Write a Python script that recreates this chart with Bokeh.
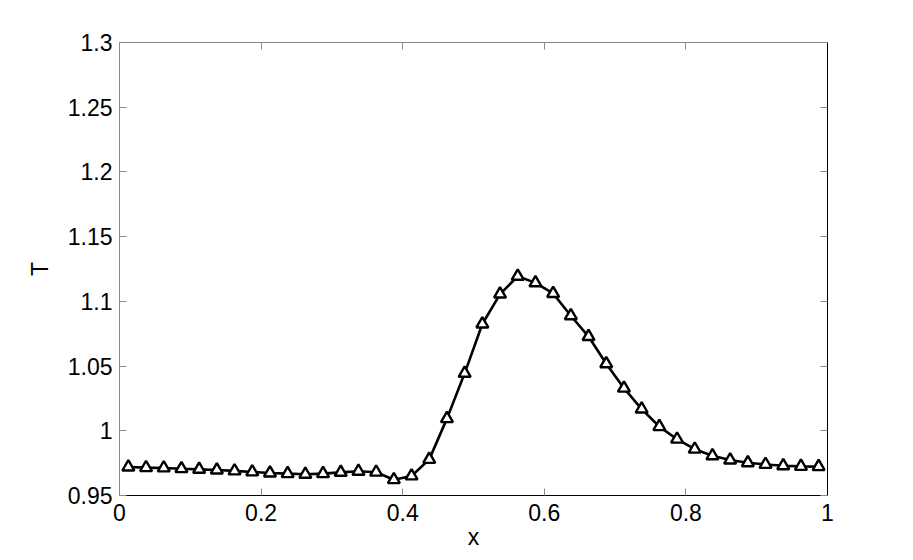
from bokeh.plotting import figure
from bokeh.models import LinearAxis, FixedTicker, Range1d
from bokeh.embed import file_html
from bokeh.resources import INLINE

# data
x = [0.0125 + 0.025 * i for i in range(40)]
T = [0.9720, 0.9715, 0.9713, 0.9707, 0.9702, 0.9697, 0.9690, 0.9682, 0.9674, 0.9669,
     0.9664, 0.9669, 0.9679, 0.9687, 0.9680, 0.9622, 0.9651, 0.9779, 1.0094, 1.0444,
     1.0825, 1.1056, 1.1194, 1.1143, 1.1061, 1.0889, 1.0728, 1.0518, 1.0329, 1.0168,
     1.0032, 0.9935, 0.9858, 0.9807, 0.9774, 0.9753, 0.9740, 0.9730, 0.9725, 0.9723]

x_ticks = [0, 0.2, 0.4, 0.6, 0.8, 1.0]
x_tick_labels = ["0", "0.2", "0.4", "0.6", "0.8", "1"]
y_ticks = [0.95, 1.0, 1.05, 1.1, 1.15, 1.2, 1.25, 1.3]
y_tick_labels = ["0.95", "1", "1.05", "1.1", "1.15", "1.2", "1.25", "1.3"]

FONT = "Liberation Sans"
GRAY = "#8a8a8a"

p = figure(width=905, height=552, output_backend="svg", toolbar_location=None,
           x_range=Range1d(0, 1), y_range=Range1d(0.95, 1.3),
           min_border_left=119, min_border_right=78, min_border_top=42, min_border_bottom=54)
p.outline_line_color = None
p.grid.visible = False
p.background_fill_color = "white"
p.border_fill_color = "white"

def style(ax, ticks, labels, line_color, show_labels):
    ax.ticker = FixedTicker(ticks=ticks)
    if show_labels:
        ax.major_label_overrides = {t: l for t, l in zip(ticks, labels)}
    else:
        ax.major_label_overrides = {t: "" for t in ticks}
    ax.minor_tick_line_color = None
    ax.major_tick_in = 7
    ax.major_tick_out = 0
    ax.major_tick_line_color = GRAY
    ax.axis_line_color = line_color
    ax.major_label_text_font = FONT
    ax.major_label_text_color = "black"
    ax.major_label_text_font_size = "23px"
    ax.axis_label_text_font = FONT
    ax.axis_label_text_font_style = "normal"
    ax.axis_label_text_font_size = "23px"
    ax.axis_label_text_color = "black"

xa = p.xaxis[0]
ya = p.yaxis[0]
style(xa, x_ticks, x_tick_labels, "black", True)
style(ya, y_ticks, y_tick_labels, GRAY, True)
xa.axis_label = "x"
ya.axis_label = "T"
xa.major_label_standoff = 8
xa.axis_label_standoff = 0
ya.major_label_standoff = 7
ya.axis_label_standoff = 12

top = LinearAxis()
right = LinearAxis()
style(top, x_ticks, x_tick_labels, GRAY, False)
style(right, y_ticks, y_tick_labels, "black", False)
top.major_label_standoff = 0
right.major_label_standoff = 0
p.add_layout(top, "above")
p.add_layout(right, "right")

p.line(x, T, line_color="black", line_width=2.6)
p.scatter(x, T, marker="triangle", size=12, fill_color="white",
          line_color="black", line_width=2.4)

open("out.html", "w").write(file_html(p, INLINE))
